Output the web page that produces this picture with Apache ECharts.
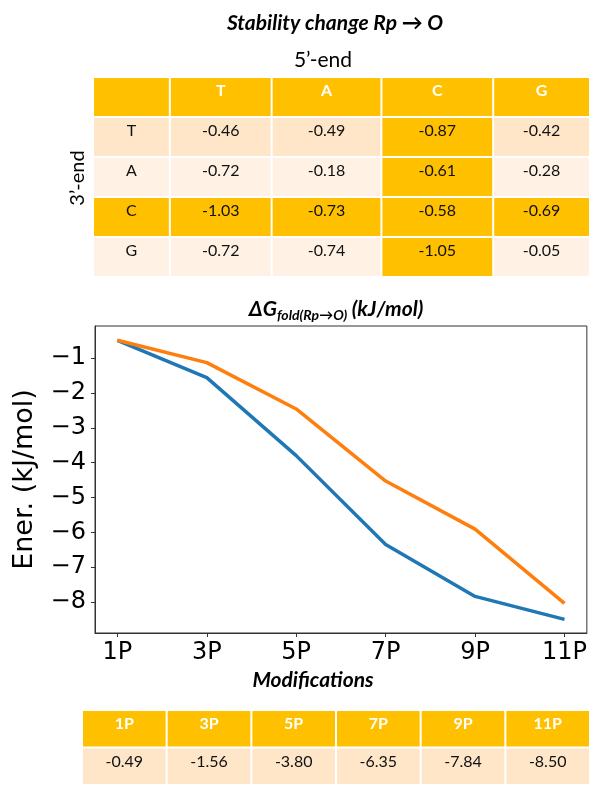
<!DOCTYPE html>
<html>
<head>
<meta charset="utf-8">
<script src="https://cdn.jsdelivr.net/npm/echarts@6/dist/echarts.min.js"></script>
<style>
html,body{margin:0;padding:0;background:#fff;}
#chart{width:590px;height:785px;}
</style>
</head>
<body>
<div id="chart"></div>
<script>
// ---------- data ----------
var fivePrime = ['T', 'A', 'C', 'G'];
var threePrime = ['T', 'A', 'C', 'G'];
var stabilityT = [-0.46, -0.49, -0.87, -0.42];
var stabilityA = [-0.72, -0.18, -0.61, -0.28];
var stabilityC = [-1.03, -0.73, -0.58, -0.69];
var stabilityG = [-0.72, -0.74, -1.05, -0.05];
var modLabels = ['1P', '3P', '5P', '7P', '9P', '11P'];
var modX = [1, 3, 5, 7, 9, 11];
var energyBlue = [-0.49, -1.56, -3.80, -6.35, -7.84, -8.50];
var energyOrange = [-0.49, -1.13, -2.46, -4.53, -5.91, -8.04];
var yTicks = [-8, -7, -6, -5, -4, -3, -2, -1];
var stability = [stabilityT, stabilityA, stabilityC, stabilityG];

// ---------- layout / style ----------
var GOLD = '#FFC000', PEACH = '#FFE6C9', LIGHT = '#FFF2E4';
var CAL = 'Lato, "Open Sans", sans-serif';
var colW = [77, 102, 110, 112, 97];
var colEdge = [0];
colW.forEach(function (w, i) { colEdge.push(colEdge[i] + w); });

// top table items
var topItems = [];
for (var r = 0; r < 5; r++) {
  for (var c = 0; c < 5; c++) {
    var text, fill, header = false;
    if (r === 0) { text = c === 0 ? '' : fivePrime[c - 1]; fill = GOLD; header = true; }
    else {
      text = c === 0 ? threePrime[r - 1] : stability[r - 1][c - 1].toFixed(2);
      if (r === 3 || c === 3) fill = GOLD;
      else fill = r === 1 ? PEACH : LIGHT;
    }
    topItems.push({ value: [c, r], text: text, fill: fill, header: header });
  }
}
// bottom table items
var botItems = [];
modLabels.forEach(function (l, i) {
  botItems.push({ value: [i, 0], text: l, fill: GOLD, header: true });
  botItems.push({ value: [i, 1], text: energyBlue[i].toFixed(2), fill: PEACH, header: false });
});

function cellGroup(x, y, w, h, item) {
  return {
    type: 'group',
    children: [
      { type: 'rect', shape: { x: x + 1, y: y + 1, width: w - 2, height: h - 2 }, style: { fill: item.fill } },
      { type: 'text', x: x + w / 2, y: y + 14,
        style: { text: item.text, fill: item.header ? '#fff' : '#111', font: (item.header ? 'bold ' : '') + '16px ' + CAL,
                 textAlign: 'center', textVerticalAlign: 'middle' } }
    ]
  };
}

var chart = echarts.init(document.getElementById('chart'), null, { renderer: 'canvas' });
var option = {
  animation: false,
  backgroundColor: '#fff',
  graphic: [
    { type: 'text', x: 335, y: 23,
      style: { text: 'Stability change Rp \u2192 O', font: 'italic bold 21px ' + CAL, fill: '#000', textAlign: 'center', textVerticalAlign: 'middle' } },
    { type: 'text', x: 323, y: 60,
      style: { text: '5\u2019-end', font: '21px ' + CAL, fill: '#000', textAlign: 'center', textVerticalAlign: 'middle' } },
    { type: 'text', x: 336, y: 309,
      style: { text: '{a|\u0394G}{s|fold(Rp\u2192O)}{a| (kJ/mol)}', textAlign: 'center', textVerticalAlign: 'middle',
        rich: {
          a: { font: 'italic bold 21px ' + CAL, fill: '#000', lineHeight: 26 },
          s: { font: 'italic bold 14px ' + CAL, fill: '#000', lineHeight: 14, verticalAlign: 'bottom' }
        } } },
    { type: 'text', x: 78, y: 178, rotation: Math.PI / 2,
      style: { text: '3\u2019-end', font: '20px ' + CAL, fill: '#000', textAlign: 'center', textVerticalAlign: 'middle' } },
    { type: 'text', x: 313, y: 680,
      style: { text: 'Modifications', font: 'italic bold 21px ' + CAL, fill: '#000', textAlign: 'center', textVerticalAlign: 'middle' } }
  ],
  grid: [
    { left: 95, top: 326, right: 3, bottom: 152, show: true, borderColor: '#333', borderWidth: 1 },
    { left: 93, top: 77, width: colEdge[5], height: 200 },
    { left: 82, top: 710, width: 510, height: 78 }
  ],
  xAxis: [
    { gridIndex: 0, type: 'value', min: 0.5, max: 11.5,
      axisLine: { show: true, lineStyle: { color: '#333', width: 1 } },
      axisTick: { show: true, length: 4, lineStyle: { color: '#333' }, customValues: modX },
      axisLabel: { customValues: modX, formatter: function (v) { return modLabels[modX.indexOf(v)]; },
                   fontFamily: '"DejaVu Sans"', fontSize: 24, color: '#000', margin: 8 },
      splitLine: { show: false } },
    { gridIndex: 1, type: 'value', min: 0, max: colEdge[5], show: false },
    { gridIndex: 2, type: 'category', data: modLabels, show: false }
  ],
  yAxis: [
    { gridIndex: 0, type: 'value', min: -8.89, max: -0.08,
      axisLine: { show: true, lineStyle: { color: '#333', width: 1 } },
      axisTick: { show: true, length: 4, lineStyle: { color: '#333' }, customValues: yTicks },
      axisLabel: { customValues: yTicks, formatter: function (v) { return '\u2212' + Math.abs(v); },
                   fontFamily: '"DejaVu Sans"', fontSize: 24, color: '#000', margin: 9 },
      splitLine: { show: false },
      name: 'Ener. (kJ/mol)', nameLocation: 'middle', nameGap: 57,
      nameTextStyle: { fontFamily: '"DejaVu Sans"', fontSize: 27, color: '#000' } },
    { gridIndex: 1, type: 'category', data: ['h'].concat(threePrime), inverse: true, show: false },
    { gridIndex: 2, type: 'category', data: ['h', 'v'], inverse: true, show: false }
  ],
  series: [
    { type: 'line', xAxisIndex: 0, yAxisIndex: 0, showSymbol: false, symbol: 'none',
      data: modX.map(function (x, i) { return [x, energyBlue[i]]; }),
      lineStyle: { color: '#1f77b4', width: 3.5 }, itemStyle: { color: '#1f77b4' } },
    { type: 'line', xAxisIndex: 0, yAxisIndex: 0, showSymbol: false, symbol: 'none',
      data: modX.map(function (x, i) { return [x, energyOrange[i]]; }),
      lineStyle: { color: '#ff7f0e', width: 3.5 }, itemStyle: { color: '#ff7f0e' } },
    { type: 'custom', xAxisIndex: 1, yAxisIndex: 1, data: topItems,
      renderItem: function (params, api) {
        var item = topItems[params.dataIndex];
        var c = item.value[0], r = item.value[1];
        var p0 = api.coord([colEdge[c], r]);
        var p1 = api.coord([colEdge[c + 1], r]);
        var h = api.size([0, 1])[1];
        return cellGroup(p0[0], p0[1] - h / 2, p1[0] - p0[0], h, item);
      } },
    { type: 'custom', xAxisIndex: 2, yAxisIndex: 2, data: botItems,
      renderItem: function (params, api) {
        var item = botItems[params.dataIndex];
        var p = api.coord([item.value[0], item.value[1]]);
        var s = api.size([1, 1]);
        return cellGroup(p[0] - s[0] / 2, p[1] - s[1] / 2, s[0], s[1], item);
      } }
  ]
};
chart.setOption(option);
</script>
</body>
</html>
